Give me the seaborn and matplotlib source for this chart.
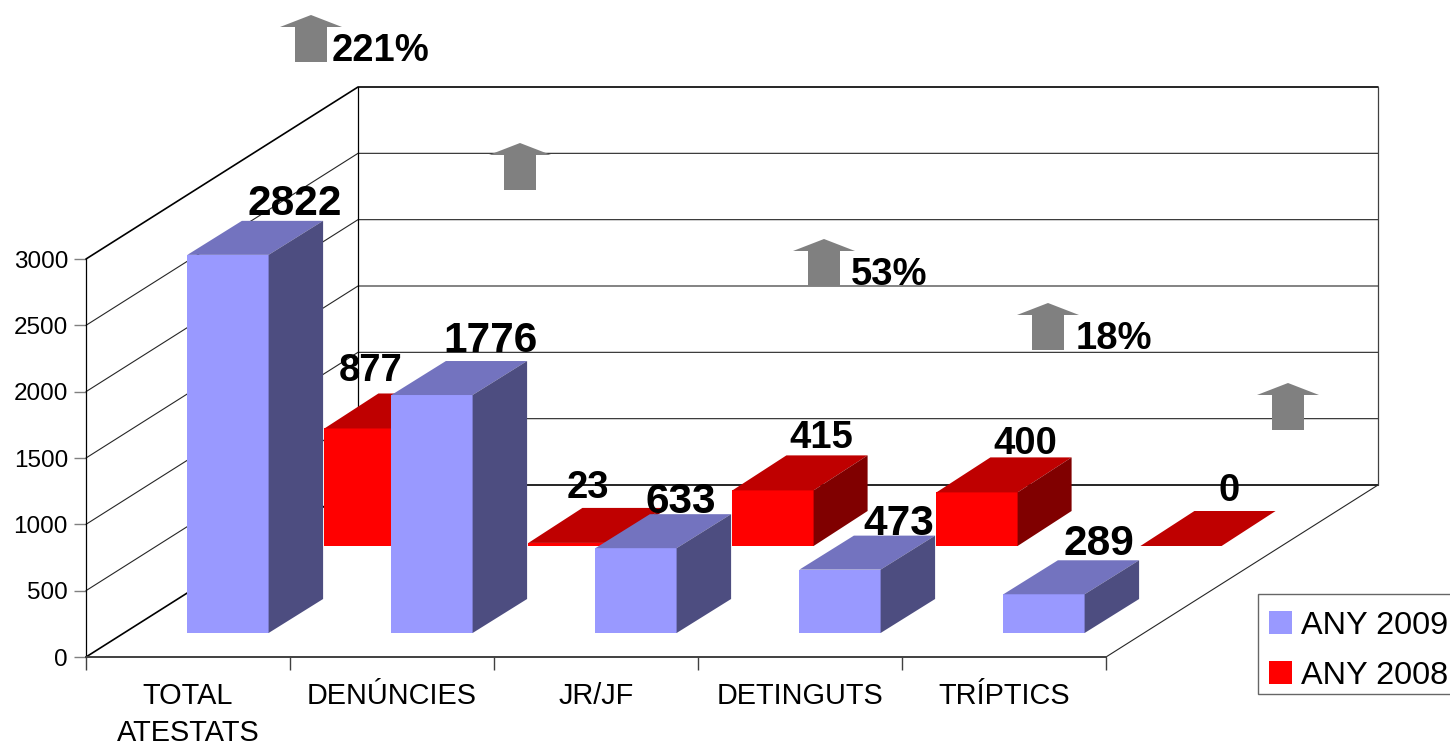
import matplotlib
matplotlib.use("Agg")
import matplotlib.pyplot as plt
from matplotlib.patches import Polygon, Patch, Rectangle
import seaborn as sns

categories = ["TOTAL\nATESTATS", "DENÚNCIES", "JR/JF", "DETINGUTS", "TRÍPTICS"]
any_2009 = [2822, 1776, 633, 473, 289]
any_2008 = [877, 23, 415, 400, 0]
value_ticks = [0, 500, 1000, 1500, 2000, 2500, 3000]
arrow_labels = ["221%", "", "53%", "18%", ""]

sns.set_theme(style="white")
plt.rcParams["font.family"] = ["Liberation Sans", "DejaVu Sans"]

W, H = 1450, 746
fig = plt.figure(figsize=(W / 100, H / 100), dpi=100, facecolor="white")


def px_axes(left, right, bottom_y, top_y, z):
    a = fig.add_axes([left / W, 1 - bottom_y / H, (right - left) / W, (bottom_y - top_y) / H])
    a.set_zorder(z)
    a.patch.set_alpha(0)
    return a


# front plane with value and category axes; walls hang off it
main = px_axes(86, 1106, 657, 259, 0)
main.set_xlim(-0.5, 4.5)
main.set_ylim(0, 3000)
dx_wall = 272 / 204
dy_wall = 172 / (398 / 3000)
x0, x1 = -0.5, 4.5
for v in value_ticks:
    lw = 1.2 if v in (0, 3000) else 0.8
    main.plot([x0, x0 + dx_wall, x1 + dx_wall], [v, v + dy_wall, v + dy_wall],
              color="black" if v in (0, 3000) else "#262626", lw=lw, clip_on=False, zorder=2)
main.plot([x1, x1 + dx_wall], [0, dy_wall], color="#262626", lw=0.8, clip_on=False, zorder=2)
main.plot([x0 + dx_wall] * 2, [dy_wall, 3000 + dy_wall], color="black", lw=0.9, clip_on=False, zorder=2)
main.plot([x1 + dx_wall] * 2, [dy_wall, 3000 + dy_wall], color="#404040", lw=0.9, clip_on=False, zorder=2)

sns.despine(ax=main, top=True, right=True)
main.spines["left"].set_color("black")
main.spines["left"].set_linewidth(0.9)
main.spines["bottom"].set_color("#404040")
main.spines["bottom"].set_linewidth(1.4)
main.set_yticks(value_ticks)
main.set_yticklabels([str(v) for v in value_ticks], fontsize=17.5, color="black")
main.tick_params(axis="y", length=9, width=1, color="#808080", pad=4, left=True)
main.set_xticks(range(5))
main.set_xticklabels(categories, fontsize=20.8, color="black", linespacing=1.42)
main.tick_params(axis="x", which="major", length=0, pad=18, bottom=False)
main.set_xticks([i - 0.5 for i in range(6)], minor=True)
main.tick_params(axis="x", which="minor", length=9, width=1, color="#404040", bottom=True)


def bars(values, off_x, base_y, front, top, side, depth_x, depth_y, z, fontsize, offsets):
    a = px_axes(86 + off_x, 1106 + off_x, base_y, base_y - 402, z)
    sns.barplot(x=list(range(5)), y=values, color=front, saturation=1, width=0.398, ax=a, linewidth=0)
    a.set_xlim(-0.5, 4.5)
    a.set_ylim(0, 3000)
    a.axis("off")
    ddx, ddy = depth_x / 204, depth_y * 3000 / 402
    for b, val, off in zip(list(a.patches), values, offsets):
        l, r, h = b.get_x(), b.get_x() + b.get_width(), b.get_height()
        a.add_patch(Polygon([(l, h), (r, h), (r + ddx, h + ddy), (l + ddx, h + ddy)],
                            closed=True, fc=top, ec="none", clip_on=False, zorder=3))
        if h > 0:
            a.add_patch(Polygon([(r, 0), (r + ddx, ddy), (r + ddx, h + ddy), (r, h)],
                                closed=True, fc=side, ec="none", clip_on=False, zorder=3))
        b.set_clip_on(False)
        a.annotate(str(val), xy=((l + r) / 2, h), xytext=off, textcoords="offset pixels",
                   ha="center", va="center", fontsize=fontsize, fontweight="bold",
                   color="black", annotation_clip=False, zorder=5)
    return a


bars(any_2008, 177, 546, "#FF0000", "#BF0000", "#800000", 54, 35, 1, 27.5,
     [(6, 57), (19, 55), (48, 52), (48, 48), (48, 55)])
bars(any_2009, 40, 633, "#9999FF", "#7373BF", "#4D4D80", 54.5, 34, 2, 30.5,
     [(67, 51), (59, 54), (45, 46), (59, 46), (55, 50)])

# overlay in pixel space for the block arrows and the legend
over = fig.add_axes([0, 0, 1, 1])
over.set_zorder(3)
over.patch.set_alpha(0)
over.set_xlim(0, W)
over.set_ylim(H, 0)
over.axis("off")
arrow_spots = [(311, 15), (520, 143), (824, 239), (1048, 303), (1288, 383)]
label_gaps = [21, 0, 27, 28, 0]
for (cx, tip), lab, gap in zip(arrow_spots, arrow_labels, label_gaps):
    over.add_patch(Polygon([(cx, tip), (cx + 31, tip + 12), (cx + 16, tip + 12), (cx + 16, tip + 47),
                            (cx - 16, tip + 47), (cx - 16, tip + 12), (cx - 31, tip + 12)],
                           closed=True, fc="#808080", ec="none"))
    if lab:
        over.text(cx + gap, tip + 36, lab, fontsize=27.5, fontweight="bold", color="black",
                  ha="left", va="center")

over.add_patch(Rectangle((1258, 594), 210, 100, fc="white", ec="#666666", lw=1.0, zorder=1))
handles = [Patch(fc="#9999FF", ec="none", label="ANY 2009"),
           Patch(fc="#FF0000", ec="none", label="ANY 2008")]
leg = over.legend(handles=handles, loc="upper left", bbox_to_anchor=(1258, 600),
                  bbox_transform=over.transData, borderaxespad=0, fontsize=23.4,
                  frameon=False, handlelength=0.72, handleheight=0.72, handletextpad=0.25,
                  borderpad=0.34, labelspacing=0.62)
leg.set_zorder(2)
for t in leg.get_texts():
    t.set_color("black")

fig.savefig("out.png", dpi=100)
